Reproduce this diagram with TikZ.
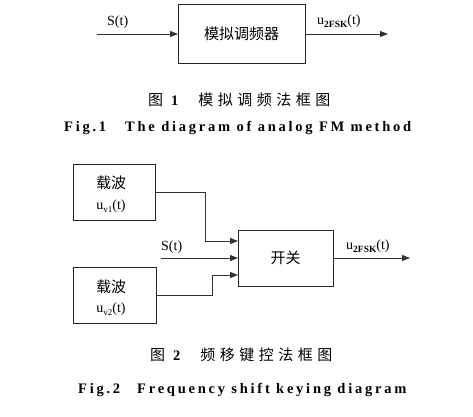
\documentclass[tikz,border=0pt]{standalone}
\usepackage{fontspec}
\setmainfont{Liberation Serif}
\newfontfamily\cjk{Noto Sans CJK SC}
\newfontfamily\cjkcap[LetterSpace=30]{Noto Sans CJK SC}
\newfontfamily\figfont[LetterSpace=19]{Liberation Serif}
\usetikzlibrary{arrows.meta}
\tikzset{
  blk/.style={draw=black!85, line width=0.8pt, inner sep=0pt, outer sep=0pt, align=center},
  conn/.style={draw=black!80, line width=0.8pt},
  arr/.style={conn, -{Triangle[length=8pt,width=6pt]}},
  lbl/.style={inner sep=0pt, anchor=base west, font=\fontsize{14}{16}\selectfont},
  cjkbox/.style={font=\cjk\fontsize{15}{17}\selectfont},
  captxt/.style={inner sep=0pt, anchor=base west},
}
\newcommand{\uvar}[1]{u\raisebox{-3pt}{\fontsize{9}{10}\selectfont #1}(t)}
\newcommand{\ufsk}{u\raisebox{-3pt}{\fontsize{9.5}{10}\selectfont\bfseries 2FSK}(t)}
\begin{document}
\begin{tikzpicture}[x=1pt,y=-1pt]
\useasboundingbox[fill=white] (0,0) rectangle (473,416);
% Figure 1
\node[blk, minimum width=127pt, minimum height=59pt, cjkbox] (fm) at (241.5,33.5) {模拟调频器};
\coordinate (s1) at (97,34);
\coordinate (o1) at (388,34);
\draw[arr] (s1) -- (s1 -| fm.west);
\draw[arr] (o1 -| fm.east) -- (o1);
\node[lbl] (ls1) at (107,25) {S(t)};
\node[lbl] (lo1) at (317,24) {\ufsk};
\node[captxt] (c1a) at (148,105) {{\cjkcap\fontsize{15}{17}\selectfont 图}\hspace{8pt}{\fontsize{14.5}{16}\selectfont\bfseries 1}\hspace{20pt}{\cjkcap\fontsize{15}{17}\selectfont 模拟调频法框图}};
\node[captxt] (c1b) at (64,131) {\figfont\bfseries\fontsize{14.5}{16}\selectfont Fig.1\hspace{19pt}The diagram of analog FM method};
% Figure 2
\node[blk, minimum width=82pt, minimum height=56pt] (c1) at (114,192) {};
\node[cjkbox, inner sep=0pt] (c1t) at (111,183) {载波};
\node[lbl, anchor=base] (c1u) at (111,209) {\uvar{v1}};
\node[blk, minimum width=83pt, minimum height=56pt] (c2) at (114.5,295) {};
\node[cjkbox, inner sep=0pt] (c2t) at (111,287) {载波};
\node[lbl, anchor=base] (c2u) at (111,312) {\uvar{v2}};
\node[blk, minimum width=95pt, minimum height=56pt, cjkbox] (sw) at (285.5,258) {开关};
\coordinate (k1) at (205,241);
\coordinate (k2) at (212,275);
\coordinate (s2) at (161,258);
\coordinate (o2) at (410,258);
\draw[arr] (c1.east) -| (k1) -- (k1 -| sw.west);
\draw[arr] (c2.east) -| (k2) -- (k2 -| sw.west);
\draw[arr] (s2) -- (s2 -| sw.west);
\draw[arr] (o2 -| sw.east) -- (o2);
\node[lbl] (ls2) at (161,250) {S(t)};
\node[lbl] (lo2) at (346,249) {\ufsk};
\node[captxt] (c2a) at (150,360) {{\cjkcap\fontsize{15}{17}\selectfont 图}\hspace{8pt}{\fontsize{14.5}{16}\selectfont\bfseries 2}\hspace{20pt}{\cjkcap\fontsize{15}{17}\selectfont 频移键控法框图}};
\node[captxt] (c2b) at (78,393) {\figfont\bfseries\fontsize{14.5}{16}\selectfont Fig.2\hspace{17pt}Frequency shift keying diagram};
\end{tikzpicture}
\end{document}
